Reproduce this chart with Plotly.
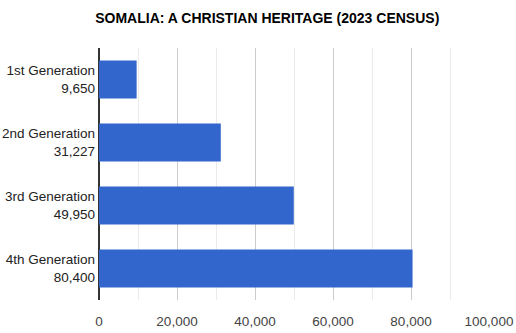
import plotly.graph_objects as go

generations = ["1st Generation", "2nd Generation", "3rd Generation", "4th Generation"]
counts = [9650, 31227, 49950, 80400]
x_ticks = [0, 20000, 40000, 60000, 80000, 100000]
x_tick_labels = ["0", "20,000", "40,000", "60,000", "80,000", "100,000"]

cat_labels = [f"{g}<br>{c:,}" for g, c in zip(generations, counts)]

fig = go.Figure(
    go.Bar(
        x=counts,
        y=cat_labels,
        orientation="h",
        marker=dict(color="#3366CC", line=dict(width=0)),
        hoverinfo="x+y",
    )
)

fig.update_layout(
    width=516,
    height=333,
    margin=dict(l=99, r=27, t=48, b=33),
    paper_bgcolor="white",
    plot_bgcolor="white",
    bargap=0.4,
    showlegend=False,
    font=dict(family="Liberation Sans, Arial, sans-serif", size=13.5, color="#222222"),
    title=dict(
        text="<b>SOMALIA: A CHRISTIAN HERITAGE (2023 CENSUS)</b>",
        x=0.518,
        xanchor="center",
        y=0.945,
        yanchor="middle",
        font=dict(size=14, color="#000000"),
    ),
)

fig.update_xaxes(
    range=[0, 100000],
    tickvals=x_ticks,
    ticktext=x_tick_labels,
    showgrid=True,
    gridcolor="#CCCCCC",
    gridwidth=1,
    minor=dict(dtick=10000, showgrid=True, gridcolor="#EBEBEB", gridwidth=1),
    zeroline=True,
    zerolinecolor="#333333",
    zerolinewidth=1.5,
    ticks="",
    ticklabelstandoff=11,
    tickfont=dict(size=13.5, color="#444444"),
    automargin=False,
    fixedrange=True,
)

fig.update_yaxes(
    autorange="reversed",
    categoryorder="array",
    categoryarray=cat_labels,
    showgrid=False,
    ticks="",
    ticklabelstandoff=3,
    tickfont=dict(size=13.5, color="#222222"),
    automargin=False,
    fixedrange=True,
)

fig.write_html("out.html")
